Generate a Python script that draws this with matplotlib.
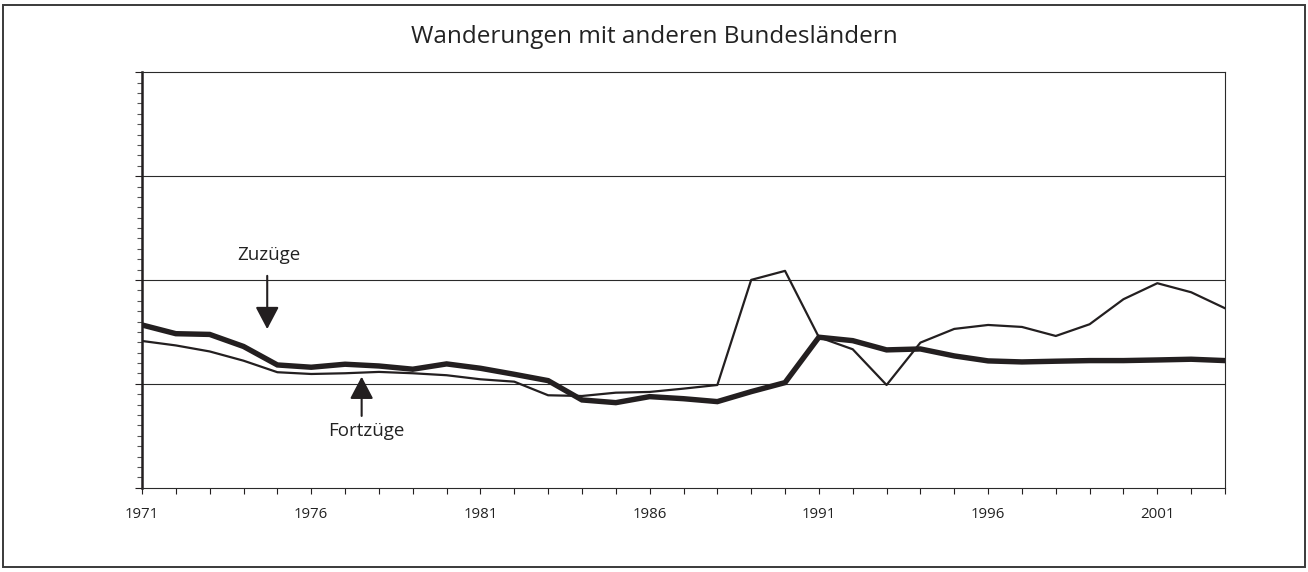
import matplotlib
matplotlib.use("Agg")
import matplotlib.pyplot as plt
from matplotlib.patches import Rectangle
from matplotlib.ticker import MultipleLocator, FixedLocator

plt.rcParams['font.family'] = ['Open Sans', 'DejaVu Sans']

years = list(range(1971, 2004))
# Zuzüge (thick line)
zuzuege = [1.567, 1.483, 1.476, 1.360, 1.182, 1.160, 1.189, 1.172, 1.141, 1.192,
           1.150, 1.092, 1.031, 0.845, 0.819, 0.877, 0.857, 0.829, 0.925, 1.012,
           1.449, 1.416, 1.327, 1.336, 1.269, 1.221, 1.211, 1.218, 1.224, 1.224,
           1.230, 1.237, 1.224]
# Fortzüge (thin line)
fortzuege = [1.413, 1.370, 1.312, 1.223, 1.112, 1.095, 1.102, 1.115, 1.102, 1.083,
             1.044, 1.021, 0.890, 0.883, 0.915, 0.922, 0.954, 0.989, 2.001, 2.088,
             1.449, 1.333, 0.989, 1.397, 1.529, 1.567, 1.548, 1.461, 1.574, 1.815,
             1.969, 1.882, 1.728]
label_years = [1971, 1976, 1981, 1986, 1991, 1996, 2001]

ink = '#231f20'

fig = plt.figure(figsize=(13.08, 5.72), dpi=100)
fig.patches.append(Rectangle((3 / 1308, 5 / 572), 1302 / 1308, 562 / 572,
                             transform=fig.transFigure, fill=False,
                             edgecolor='#3a3a3a', linewidth=1.4))
ax = fig.add_axes([142 / 1308, 1 - 487.7 / 572, 1083 / 1308, 415.4 / 572])

for g in [1, 2, 3]:
    ax.axhline(g, color='#2a2a2a', linewidth=0.8, zorder=1)

ax.plot(years, fortzuege, color=ink, linewidth=1.6, zorder=3)
ax.plot(years, zuzuege, color=ink, linewidth=3.9, zorder=4, solid_joinstyle='miter')

ax.set_xlim(1971, 2003)
ax.set_ylim(0, 4)

ax.xaxis.set_major_locator(FixedLocator(years))
ax.set_xticklabels([str(y) if y in label_years else '' for y in years], fontsize=10.8)
ax.yaxis.set_major_locator(MultipleLocator(1))
ax.yaxis.set_minor_locator(MultipleLocator(0.1))
ax.set_yticklabels(['0', '', '', '', ''], fontsize=12.5)
ax.tick_params(axis='x', direction='out', length=4, width=0.8, color=ink, pad=10,
               labelcolor='#222222')
ax.tick_params(axis='y', which='major', direction='out', length=5, width=0.8,
               color=ink, pad=4, labelcolor='#222222')
ax.tick_params(axis='y', which='minor', direction='out', length=3.5, width=0.8,
               color='#555555')

for side in ['top', 'right', 'bottom']:
    ax.spines[side].set_linewidth(0.8)
    ax.spines[side].set_color('#2a2a2a')
ax.spines['left'].set_linewidth(1.8)
ax.spines['left'].set_color(ink)

fig.text(0.5, 1 - 37 / 572, 'Wanderungen mit anderen Bundesländern',
         ha='center', va='center', fontsize=17.5, color='#222222')

arrow = dict(arrowstyle='-|>,head_length=0.95,head_width=0.5', color=ink,
             lw=1.5, mutation_scale=14.4, shrinkA=0, shrinkB=0)
ax.annotate('', xy=(1974.7, 1.527), xytext=(1974.7, 2.04), arrowprops=arrow)
ax.text(1974.75, 2.24, 'Zuzüge', ha='center', va='center', fontsize=13.5,
        color='#222222')
ax.annotate('', xy=(1977.49, 1.069), xytext=(1977.49, 0.691), arrowprops=arrow)
ax.text(1977.62, 0.549, 'Fortzüge', ha='center', va='center', fontsize=13.5,
        color='#222222')

fig.savefig('out.png', dpi=100)
